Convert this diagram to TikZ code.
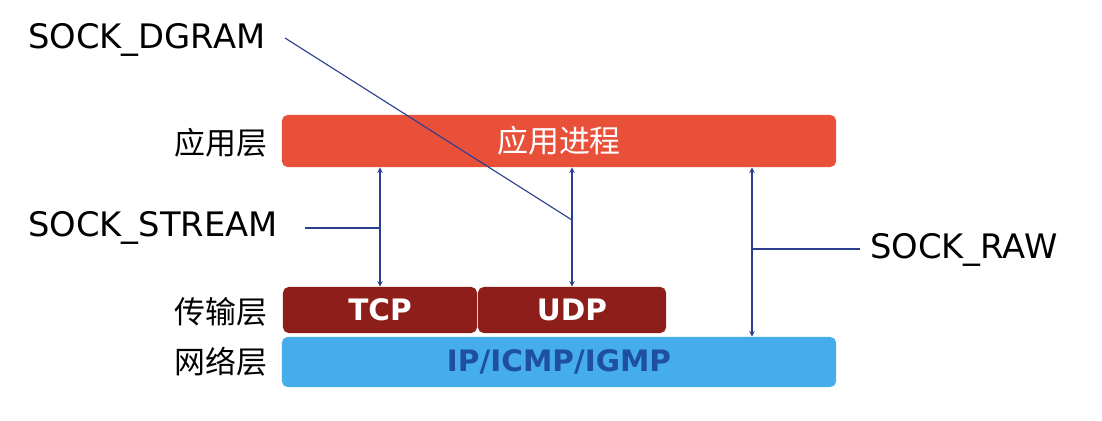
\documentclass[tikz,border=0pt]{standalone}
\usepackage{fontspec}
\setmainfont{DejaVu Sans}
\newfontfamily\cjk{Noto Sans CJK SC}
\usepackage{tikz}
\definecolor{appred}{HTML}{E8503A}
\definecolor{tcpred}{HTML}{8E1E1A}
\definecolor{ipblue}{HTML}{45AEEA}
\definecolor{iptext}{HTML}{1F4F9F}
\definecolor{linkblue}{HTML}{2A3F8F}

\begin{document}
\begin{tikzpicture}[x=0.025cm, y=-0.025cm,
  bar/.style={rounded corners=4pt, minimum height=1.3cm, inner sep=0pt},
  layer/.style={font=\cjk\fontsize{22}{22}\selectfont, anchor=east},
  sock/.style={font=\fontsize{24}{24}\selectfont, anchor=west, inner sep=0pt},
  link/.style={linkblue, line width=0.8pt},
  dbl/.style={linkblue, line width=0.8pt, <->, >=stealth}]

\useasboundingbox (0,0) rectangle (1102,420);

% Layers
\node[bar, fill=appred, minimum width=13.85cm, text=white, font=\cjk\fontsize{22}{22}\selectfont] (app) at (559,141) {应用进程};
\node[bar, fill=tcpred, minimum width=4.85cm, minimum height=1.15cm, text=white, font=\bfseries\fontsize{21}{21}\selectfont] (tcp) at (380,310) {TCP};
\node[bar, fill=tcpred, minimum width=4.7cm, minimum height=1.15cm, text=white, font=\bfseries\fontsize{21}{21}\selectfont] (udp) at (572,310) {UDP};
\node[bar, fill=ipblue, minimum width=13.85cm, minimum height=1.25cm, text=iptext, font=\bfseries\fontsize{21}{21}\selectfont] (ip) at (559,362) {IP/ICMP/IGMP};

% Layer names
\node[layer] (lapp) at (272,143) {应用层};
\node[layer] (ltrans) at (272,312) {传输层};
\node[layer] (lnet) at (272,362) {网络层};

% Socket types
\node[sock] (dgram) at (28,40) {SOCK\_DGRAM};
\node[sock] (stream) at (28,228) {SOCK\_STREAM};
\node[sock] (raw) at (870,250) {SOCK\_RAW};

% Arrows
\draw[dbl] (app.south -| tcp) -- (tcp.north);
\draw[dbl] (app.south -| udp) -- (udp.north);
\coordinate (rawx) at (752,0);
\draw[dbl] (app.south -| rawx) -- (ip.north -| rawx);

% Leaders
\coordinate (dgramstart) at (285,38);
\coordinate (dgramend) at (572,220);
\coordinate (streamstart) at (305,228);
\coordinate (streamend) at (379,228);
\coordinate (rawend) at (752,249);
\coordinate (rawstart) at (860,249);
\draw[link] (dgramstart) -- (dgramend);
\draw[link] (streamstart) -- (streamend);
\draw[link] (rawend) -- (rawstart);

\end{tikzpicture}
\end{document}
